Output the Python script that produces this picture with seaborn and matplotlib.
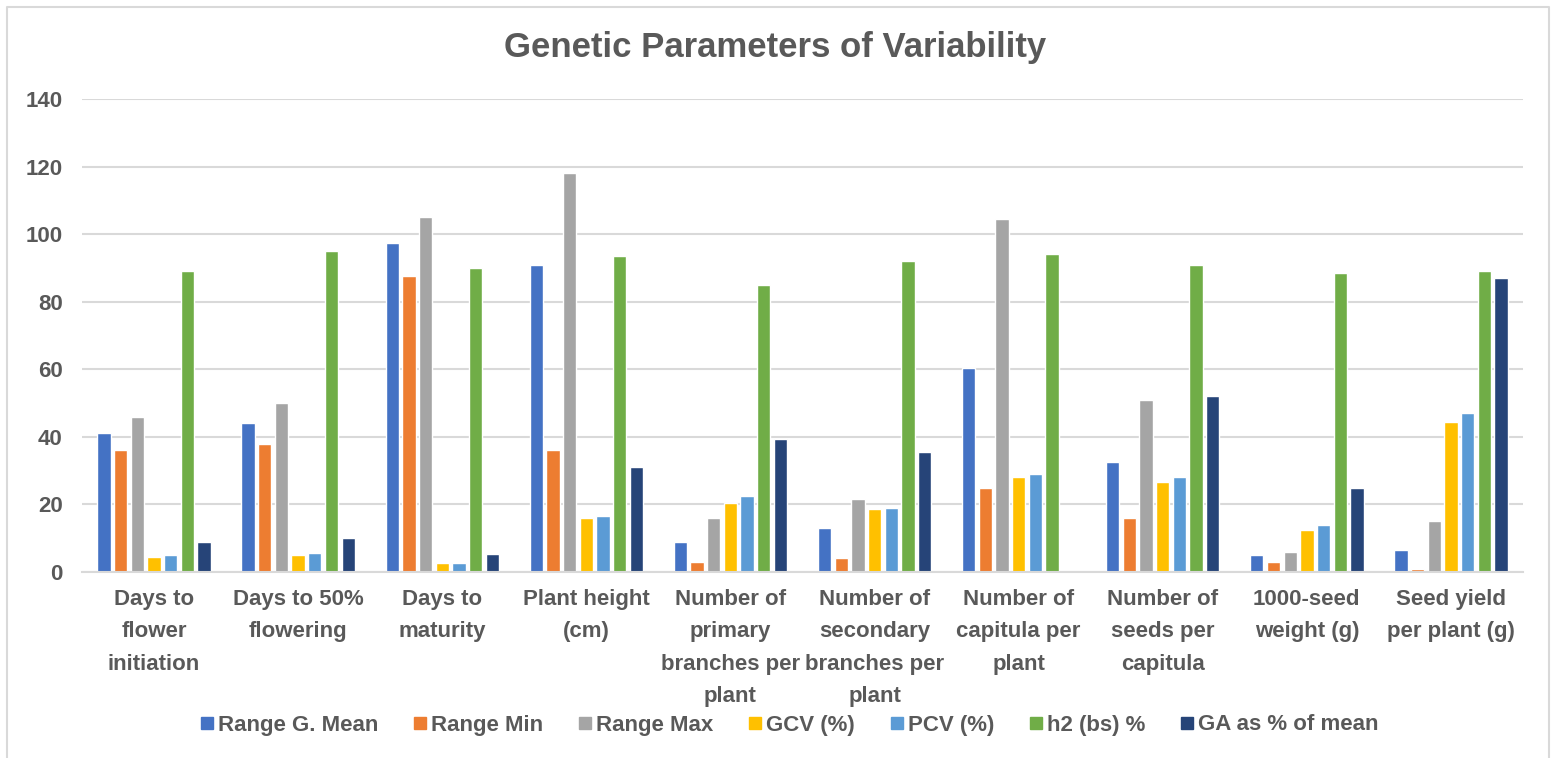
import numpy as np
import pandas as pd
import matplotlib
matplotlib.use("Agg")
import matplotlib.pyplot as plt
import seaborn as sns
from matplotlib.lines import Line2D

# traits on the x axis
traits = ["Days to\nflower\ninitiation", "Days to 50%\nflowering", "Days to\nmaturity",
          "Plant height\n(cm)", "Number of\nprimary\nbranches per\nplant",
          "Number of\nsecondary\nbranches per\nplant", "Number of\ncapitula per\nplant",
          "Number of\nseeds per\ncapitula", "1000-seed\nweight (g)", "Seed yield\nper plant (g)"]

series = ["Range G. Mean", "Range Min", "Range Max", "GCV (%)", "PCV (%)",
          "h2 (bs) %", "GA as % of mean"]

g_mean = [41, 44, 97.5, 91, 9, 13, 60.5, 32.5, 5, 6.5]
r_min = [36, 38, 87.5, 36, 3, 4, 25, 16, 3, 1]
r_max = [46, 50, 105, 118, 16, 21.5, 104.5, 51, 6, 15]
gcv = [4.5, 5, 2.7, 16, 20.5, 18.5, 28, 26.5, 12.5, 44.5]
pcv = [5, 5.5, 2.7, 16.5, 22.5, 19, 29, 28, 14, 47]
h2 = [89, 95, 90, 93.5, 85, 92, 94, 91, 88.5, 89]
ga = [9, 10, 5.3, 31, 39.5, 35.5, np.nan, 52, 25, 87]

colors = ["#4472C4", "#ED7D31", "#A5A5A5", "#FFC000", "#5B9BD5", "#70AD47", "#264478"]
txt_col = "#595959"
grid_col = "#d9d9d9"

rows = []
for name, vals in zip(series, [g_mean, r_min, r_max, gcv, pcv, h2, ga]):
    for t, v in zip(traits, vals):
        rows.append({"Trait": t, "Series": name, "Value": v})
df = pd.DataFrame(rows)

sns.set_theme(style="white")
plt.rcParams["font.family"] = ["Liberation Sans", "DejaVu Sans"]

fig = plt.figure(figsize=(15.51, 7.58), dpi=100)
ax = fig.add_axes([82 / 1551, 1 - 572 / 758, (1523 - 82) / 1551, (572 - 99) / 758])

sns.barplot(data=df, x="Trait", y="Value", hue="Series", palette=colors,
            width=0.81, gap=0.2, ax=ax, legend=False, saturation=1)

ax.set_ylim(0, 140)
ax.set_yticks(range(0, 141, 20))
ax.set_xlim(-0.5, len(traits) - 0.5)
ax.yaxis.grid(True, color=grid_col, linewidth=1.5)
ax.set_axisbelow(True)
for s in ["top", "right", "left"]:
    ax.spines[s].set_visible(False)
ax.spines["bottom"].set_color(grid_col)
ax.spines["bottom"].set_linewidth(1.5)
ax.set_xlabel("")
ax.set_ylabel("")
ax.tick_params(axis="both", length=0, colors=txt_col)
ax.tick_params(axis="y", pad=14, labelsize=16)
ax.tick_params(axis="x", pad=12, labelsize=16)
for lab in ax.get_xticklabels():
    lab.set_fontweight("bold")
    lab.set_linespacing(1.72)
    lab.set_verticalalignment("top")
for lab in ax.get_yticklabels():
    lab.set_fontweight("bold")

fig.text(0.5, 1 - 48 / 758, "Genetic Parameters of Variability", ha="center", va="center",
         fontsize=25, fontweight="bold", color=txt_col)

handles = [Line2D([0], [0], marker="s", linestyle="none", markersize=8,
                  markerfacecolor=c, markeredgecolor=c) for c in colors]
leg = fig.legend(handles, series, loc="center", bbox_to_anchor=(0.509, 1 - 725 / 758),
                 ncol=7, frameon=False, handlelength=0.6, handletextpad=0.2,
                 columnspacing=1.58, prop={"size": 16, "weight": "bold"})
for t in leg.get_texts():
    t.set_color(txt_col)

# light frame around the chart area
fx0, fx1, fy1 = 7 / 1551, 1549 / 1551, 1 - 7 / 758
fig.add_artist(Line2D([fx0, fx0, fx1, fx1], [0, fy1, fy1, 0], transform=fig.transFigure,
                      color=grid_col, linewidth=1.5))

fig.savefig("out.png", dpi=100, facecolor="white")
